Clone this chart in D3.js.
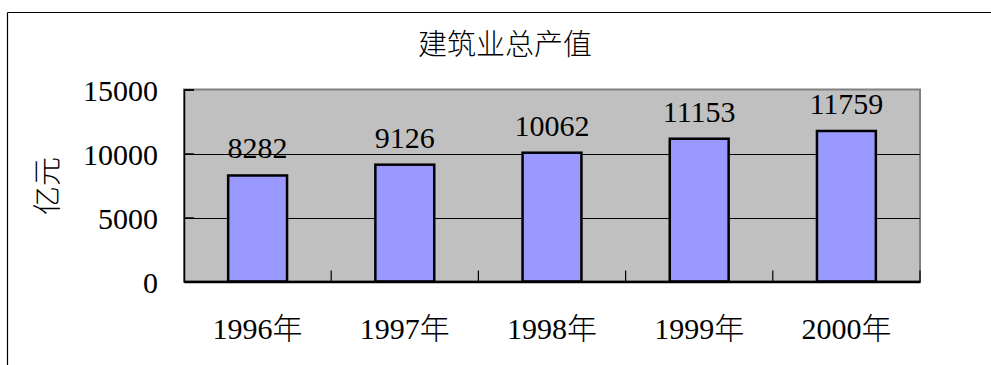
<!DOCTYPE html>
<html><head><meta charset="utf-8">
<script src="https://cdn.jsdelivr.net/npm/d3@7"></script>
<style>
html,body{margin:0;padding:0;background:#fff;}
svg text{font-family:"Liberation Serif","Times New Roman","DejaVu Serif","Noto Sans CJK SC",serif !important;fill:#000;}
svg text.cjk{font-weight:300;}
</style></head>
<body><svg id="c" width="991" height="365"></svg>
<script>
const title = "建筑业总产值";
const yTitle = "亿元";
const categories = ["1996年","1997年","1998年","1999年","2000年"];
const values = [8282, 9126, 10062, 11153, 11759];
const yTicks = [0, 5000, 10000, 15000];

const svg = d3.select("#c");
const plot = {left:184, right:920, top:89.5, bottom:281.5};

// outer chart frame (left and top edges visible)
svg.append("line").attr("x1",7.5).attr("y1",12.5).attr("x2",991).attr("y2",12.5).attr("stroke","#000").attr("stroke-width",1.2);
svg.append("line").attr("x1",7.5).attr("y1",12.5).attr("x2",7.5).attr("y2",365).attr("stroke","#000").attr("stroke-width",1.2);

const x = d3.scaleBand().domain(categories).range([plot.left, plot.right]).paddingInner(0.6).paddingOuter(0.3);
const xb = d3.scaleBand().domain(categories).range([plot.left, plot.right]);
const y = d3.scaleLinear().domain([0,15000]).range([plot.bottom, plot.top]);

// plot area
svg.append("rect").attr("x",plot.left).attr("y",plot.top).attr("width",plot.right-plot.left).attr("height",plot.bottom-plot.top)
  .attr("fill","#c0c0c0").attr("stroke","#808080").attr("stroke-width",2);

// gridlines
svg.append("g").selectAll("line").data(yTicks.filter(d=>d>0 && d<15000)).join("line")
  .attr("x1",plot.left).attr("x2",plot.right).attr("y1",d=>Math.round(y(d))+0.5).attr("y2",d=>Math.round(y(d))+0.5)
  .attr("stroke","#000").attr("stroke-width",1);

// bars
svg.append("g").selectAll("rect").data(values).join("rect")
  .attr("x",(d,i)=>x(categories[i]))
  .attr("width",x.bandwidth())
  .attr("y",d=>y(d))
  .attr("height",d=>plot.bottom-y(d))
  .attr("fill","#9999ff").attr("stroke","#000").attr("stroke-width",2.5);

// value labels
svg.append("g").selectAll("text").data(values).join("text")
  .attr("x",(d,i)=>x(categories[i])+x.bandwidth()/2)
  .attr("y",d=>y(d)-17)
  .attr("text-anchor","middle").attr("font-size",30)
  .text(d=>d);

// y axis
const yAxis = d3.axisLeft(y).tickValues(yTicks).tickSize(-10).tickPadding(26).tickFormat(d=>d);
const gy = svg.append("g").attr("transform",`translate(${plot.left},0)`).call(yAxis);
gy.attr("font-family",null);
gy.select(".domain").attr("stroke","#000").attr("stroke-width",1.5);
gy.selectAll(".tick line").attr("stroke","#000").attr("stroke-width",1.5);
gy.selectAll(".tick text").attr("font-size",30).attr("dy","0.36em");

// x axis
const xAxis = d3.axisBottom(xb).tickSize(0).tickPadding(36);
const gx = svg.append("g").attr("transform",`translate(0,${plot.bottom})`).call(xAxis);
gx.attr("font-family",null);
gx.select(".domain").attr("stroke","#000").attr("stroke-width",2.5);
gx.selectAll(".tick text").attr("font-size",30).classed("cjk",true);
// category boundary ticks
svg.append("g").selectAll("line").data(categories.slice(1).concat([null])).join("line")
  .attr("x1",d=>d===null?plot.right:xb(d)).attr("x2",d=>d===null?plot.right:xb(d))
  .attr("y1",plot.bottom).attr("y2",plot.bottom-11).attr("stroke","#000").attr("stroke-width",1.2);

// titles
svg.append("text").attr("class","cjk").attr("x",505).attr("y",55).attr("text-anchor","middle").attr("font-size",29).text(title);
svg.append("text").attr("class","cjk").attr("transform","translate(58,186) rotate(-90)").attr("text-anchor","middle").attr("font-size",29).text(yTitle);
</script></body></html>
